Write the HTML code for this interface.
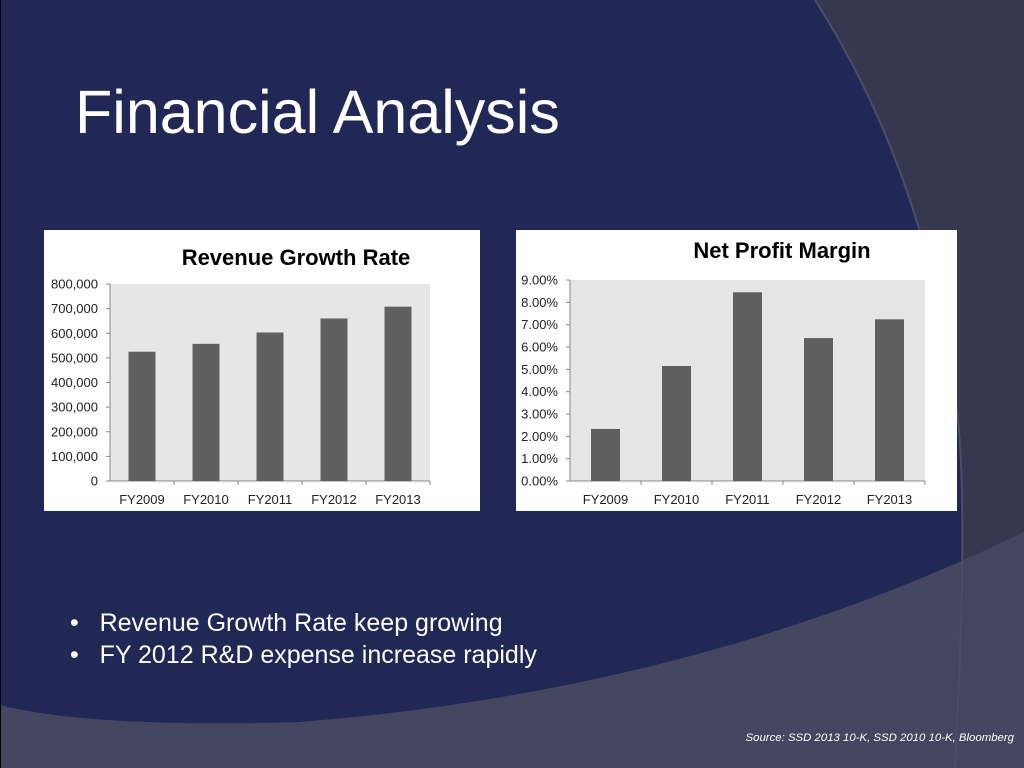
<!DOCTYPE html>
<html><head><meta charset="utf-8"><style>
body{margin:0;width:1024px;height:768px;overflow:hidden;background:#222856;font-family:"Liberation Sans",sans-serif;position:relative}
svg{position:absolute;left:0;top:0}
.t{position:absolute;color:#fff}
</style></head><body>
<svg width="1024" height="768">
<path d="M815,0 Q930,180 958,420 Q968,520 955,768 L1024,768 L1024,0Z" fill="#35384f"/>
<path d="M0,705 Q90,728 300,722 Q700,690 1024,532 L1024,768 L0,768Z" fill="#444760"/>
<path d="M815,0 Q930,180 958,420 Q968,520 955,768" fill="none" stroke="#4a4e68" stroke-width="2"/>
<path d="M0,768 L0,0" stroke="#000" stroke-width="2"/>
</svg>
<div class="t" style="left:75px;top:77px;font-size:61px">Financial Analysis</div>
<div class="t" style="left:70px;top:607px;font-size:25px;line-height:32px">
<div>•&nbsp;&nbsp; Revenue Growth Rate keep growing</div>
<div>•&nbsp;&nbsp; FY 2012 R&amp;D expense increase rapidly</div>
</div>
<div class="t" style="right:10px;top:732px;font-size:11.4px;font-style:italic">Source: SSD 2013 10-K, SSD 2010 10-K, Bloomberg</div>
<svg id="c1" width="1024" height="768"></svg>
<svg id="c2" width="1024" height="768"></svg>
<script>
const categories=["FY2009","FY2010","FY2011","FY2012","FY2013"];
const revenueValues=[525000,557000,603000,660000,708000];
const revenueTicks=[0,100000,200000,300000,400000,500000,600000,700000,800000];
const marginValues=[2.33,5.15,8.45,6.40,7.24];
const marginTicks=[0,1,2,3,4,5,6,7,8,9];
const NS="http://www.w3.org/2000/svg";
function mk(svg,tag,a,txt){const e=document.createElementNS(NS,tag);for(const k in a)e.setAttribute(k,a[k]);if(txt!=null)e.textContent=txt;svg.appendChild(e);return e;}
function chart(svg,box,plot,title,titleX,vals,ticks,max,fmt,barW,titleY){
 const bg=mk(svg,'rect',{x:box[0],y:box[1],width:box[2]-box[0],height:box[3]-box[1],fill:'#fff'});
 
 
 const pa=mk(svg,'rect',{x:plot[0],y:plot[1],width:plot[2]-plot[0],height:plot[3]-plot[1],fill:'#e6e6e6'});
 
 
 const tt=mk(svg,'text',{x:titleX,y:titleY,'font-size':22,'font-weight':'bold','text-anchor':'middle',fill:'#000'},title);
 
 
 const y=v=>plot[3]-v/max*(plot[3]-plot[1]);
 const cw=(plot[2]-plot[0])/categories.length;
 ticks.forEach(t=>{const l=mk(svg,'text',{x:plot[0]-12,y:y(t)+4.5,'font-size':13,'text-anchor':'end',fill:'#222'},fmt(t));
  
  
  mk(svg,'line',{x1:plot[0]-4,x2:plot[0],y1:y(t),y2:y(t),stroke:'#888'});});
 mk(svg,'line',{x1:plot[0],x2:plot[0],y1:plot[1],y2:plot[3],stroke:'#888'});
 mk(svg,'line',{x1:plot[0],x2:plot[2],y1:plot[3],y2:plot[3],stroke:'#888'});
 categories.forEach((c,i)=>{
  const cx=plot[0]+cw*(i+0.5);
  mk(svg,'line',{x1:plot[0]+cw*(i+1),x2:plot[0]+cw*(i+1),y1:plot[3],y2:plot[3]+4,stroke:'#888'});
  const b=mk(svg,'rect',{x:cx-barW/2,y:y(vals[i]),width:barW,height:plot[3]-y(vals[i]),fill:'#5f5f5f'});
  
  
  const l=mk(svg,'text',{x:cx,y:plot[3]+23,'font-size':13,'text-anchor':'middle',fill:'#222'},c);
  
  
 });
}
chart(document.getElementById('c1'),[44,230,480,511],[110,284,430,481],'Revenue Growth Rate',296,revenueValues,revenueTicks,800000,t=>t===0?'0':t.toLocaleString('en-US'),27,265);
chart(document.getElementById('c2'),[516,230,957,511],[570,280,925,481],'Net Profit Margin',782,marginValues,marginTicks,9,t=>t.toFixed(2)+'%',29,258);
</script>
</body></html>
